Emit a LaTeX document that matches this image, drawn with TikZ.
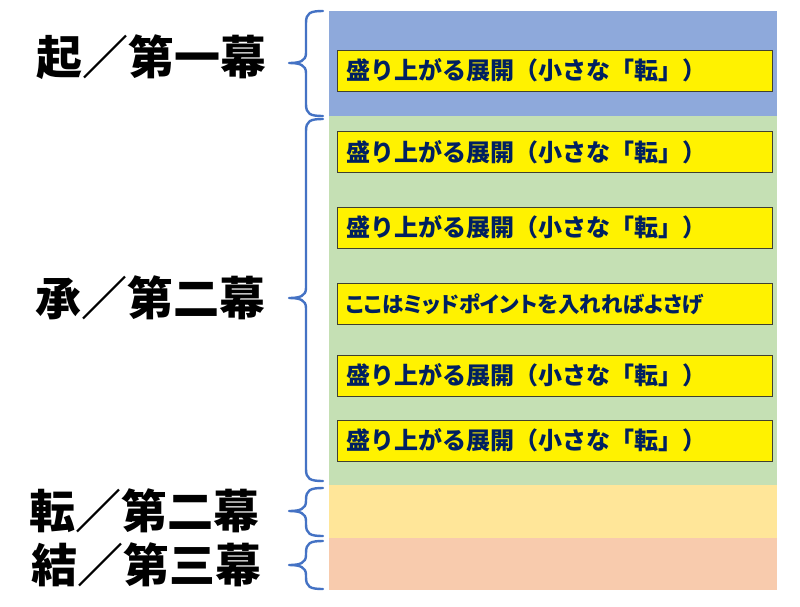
\documentclass[tikz,border=0pt]{standalone}
\usepackage{fontspec}
\newfontfamily\jp{Noto Sans CJK JP}
\newfontfamily\jpp{Noto Sans CJK JP}[RawFeature=+palt]
\newfontfamily\jpblack{Noto Sans CJK JP Black}
\definecolor{bandblue}{HTML}{8EA9DB}
\definecolor{bandgreen}{HTML}{C5E0B4}
\definecolor{bandyellow}{HTML}{FFE699}
\definecolor{bandorange}{HTML}{F8CBAD}
\definecolor{bracecol}{HTML}{4472C4}
\definecolor{navy}{HTML}{002060}
\definecolor{boxline}{HTML}{404030}
\begin{document}
\begin{tikzpicture}[x=1pt,y=-1pt,
  textbox/.style={draw=boxline,line width=1pt,fill=yellow,minimum width=435pt,minimum height=41pt,
    text width=417pt,align=left,inner sep=0pt,font=\jp\bfseries\fontsize{24}{24}\selectfont,text=navy},
  actlabel/.style={font=\jpblack\fontsize{46}{46}\selectfont,text=black,inner sep=0pt},
  bracestyle/.style={draw=bracecol,line width=2.4pt,line cap=round,line join=round}]
\useasboundingbox (0,0) rectangle (800,606);
\fill[white] (0,0) rectangle (800,606);
% bands
\fill[bandblue] (329,11) rectangle (777,116);
\fill[bandgreen] (329,116) rectangle (777,485);
\fill[bandyellow] (329,485) rectangle (777,538);
\fill[bandorange] (329,538) rectangle (777,590);
% boxes
\node[textbox] (b1) at (554.5,70.5) {盛り上がる展開（小さな「転」）};
\node[textbox] (b2) at (554.5,152) {盛り上がる展開（小さな「転」）};
\node[textbox] (b3) at (554.5,227.5) {盛り上がる展開（小さな「転」）};
\node[textbox,font=\jpp\bfseries\fontsize{21.5}{21.5}\selectfont] (b4) at (554.5,304) {ここはミッドポイントを入れればよさげ};
\node[textbox] (b5) at (554.5,375.5) {盛り上がる展開（小さな「転」）};
\node[textbox] (b6) at (554.5,440.5) {盛り上がる展開（小さな「転」）};
% braces
\newcommand\mybrace[3]{%
  \draw[bracestyle] (323,#1) .. controls (310,#1) and (306,#1+2) .. (306,#1+12)
    -- (306,#2-10) .. controls (306,#2-2) and (300,#2) .. (289,#2)
    .. controls (300,#2) and (306,#2+2) .. (306,#2+10)
    -- (306,#3-12) .. controls (306,#3-2) and (310,#3) .. (323,#3);}
\mybrace{11}{63}{116}
\mybrace{119}{298}{481}
\mybrace{488}{511}{536}
\mybrace{541}{565}{589}
% labels
\node[actlabel] (l1) at (151,57) {起／第一幕};
\node[actlabel] (l2) at (150,298) {承／第二幕};
\node[actlabel] (l3) at (144,511) {転／第二幕};
\node[actlabel] (l4) at (146,565) {結／第三幕};
\end{tikzpicture}
\end{document}
